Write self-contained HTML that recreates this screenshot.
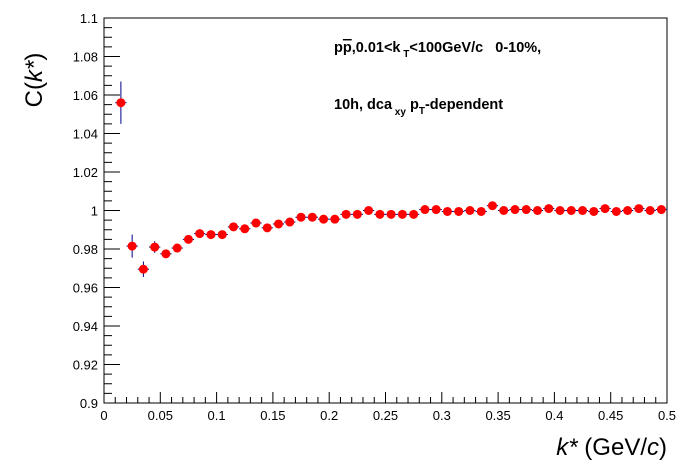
<!DOCTYPE html>
<html><head><meta charset="utf-8"><style>
body{margin:0;background:#fff;}
svg{display:block;font-family:"Liberation Sans",sans-serif;}
</style></head><body>
<svg id="chart" width="696" height="472">
<rect width="696" height="472" fill="#fff"/>
<g id="axes"></g>
<g id="marks"></g>
<text x="334" y="52" font-size="14.5" font-weight="bold">p<tspan text-decoration="overline">p</tspan>,0.01&lt;k<tspan font-size="10" dy="5"> T</tspan><tspan dy="-5">&lt;100GeV/c&#160;&#160;&#160;0-10%,</tspan></text>
<text x="334" y="109" font-size="14.5" font-weight="bold">10h, dca<tspan font-size="10" dy="6"> xy</tspan><tspan dy="-6"> p</tspan><tspan font-size="10" dy="5">T</tspan><tspan dy="-5">-dependent</tspan></text>
<text transform="translate(42,80) rotate(-90)" font-size="24" text-anchor="middle">C(<tspan font-style="italic">k*</tspan>)</text>
<text x="667" y="455" font-size="24" text-anchor="end"><tspan font-style="italic">k*</tspan> (GeV/<tspan font-style="italic">c</tspan>)</text>
</svg>
<script>
const kCenters=[0.015,0.025,0.035,0.045,0.055,0.065,0.075,0.085,0.095,0.105,0.115,0.125,0.135,0.145,0.155,0.165,0.175,0.185,0.195,0.205,0.215,0.225,0.235,0.245,0.255,0.265,0.275,0.285,0.295,0.305,0.315,0.325,0.335,0.345,0.355,0.365,0.375,0.385,0.395,0.405,0.415,0.425,0.435,0.445,0.455,0.465,0.475,0.485,0.495];
const cValues=[1.056,0.9815,0.9695,0.981,0.9775,0.9805,0.985,0.988,0.9875,0.9875,0.9915,0.9905,0.9935,0.991,0.993,0.994,0.9965,0.9965,0.9955,0.9955,0.998,0.998,1.0,0.998,0.998,0.998,0.998,1.0005,1.0005,0.9995,0.9995,1.0,0.9995,1.0025,1.0,1.0005,1.0005,1.0,1.001,1.0,1.0,1.0,0.9995,1.001,0.9995,1.0,1.001,1.0,1.0005];
const cErrors=[0.011,0.006,0.004,0.003,0.002,0.002,0.0015,0.0015,0.0015,0.0012,0.0012,0.0012,0.001,0.001,0.001,0.001,0.001,0.001,0.001,0.001,0.001,0.001,0.001,0.001,0.001,0.001,0.001,0.001,0.001,0.001,0.001,0.001,0.001,0.001,0.001,0.001,0.001,0.001,0.001,0.001,0.001,0.001,0.001,0.001,0.001,0.001,0.001,0.001,0.001];
const xTickLabels=["0","0.05","0.1","0.15","0.2","0.25","0.3","0.35","0.4","0.45","0.5"];
const yTickLabels=["0.9","0.92","0.94","0.96","0.98","1","1.02","1.04","1.06","1.08","1.1"];

const X0=104,X1=667,Y0=403,Y1=18;
const xMin=0,xMax=0.5,yMin=0.9,yMax=1.1;
const sx=v=>X0+(v-xMin)/(xMax-xMin)*(X1-X0);
const sy=v=>Y0-(v-yMin)/(yMax-yMin)*(Y0-Y1);
const NS="http://www.w3.org/2000/svg";
function mk(tag,attrs,parent){const e=document.createElementNS(NS,tag);for(const k in attrs)e.setAttribute(k,attrs[k]);parent.appendChild(e);return e;}
const axes=document.getElementById('axes'),marks=document.getElementById('marks');
const frame=mk('rect',{x:X0,y:Y1,width:X1-X0,height:Y0-Y1,fill:'none',stroke:'#000','stroke-width':1},axes);


for(let i=0;i<=50;i++){const v=i*0.01,x=sx(v),len=(i%5===0)?11:6;
 mk('line',{x1:x,x2:x,y1:Y0,y2:Y0-len,stroke:'#000'},axes);}
xTickLabels.forEach(t=>{const el=mk('text',{x:sx(parseFloat(t)),y:Y0+17,'font-size':13,'text-anchor':'middle'},axes);el.textContent=t;
 
 });
for(let i=0;i<=40;i++){const v=0.9+i*0.005,y=sy(v),len=(i%4===0)?16:8;
 mk('line',{x1:X0,x2:X0+len,y1:y,y2:y,stroke:'#000'},axes);}
yTickLabels.forEach(t=>{const el=mk('text',{x:X0-6,y:sy(parseFloat(t))+5,'font-size':13,'text-anchor':'end'},axes);el.textContent=t;
 
 });
kCenters.forEach((k,i)=>{const x=sx(k),y=sy(cValues[i]);
 const g=mk('g',{},marks);
 
 
 mk('line',{x1:sx(k-0.005),x2:sx(k+0.005),y1:y,y2:y,stroke:'#00008b','stroke-width':1},g);
 mk('line',{x1:x,x2:x,y1:sy(cValues[i]-cErrors[i]),y2:sy(cValues[i]+cErrors[i]),stroke:'#00008b','stroke-width':1},g);
 mk('circle',{cx:x,cy:y,r:4.5,fill:'#ff0000'},g);});
</script>
</body></html>
